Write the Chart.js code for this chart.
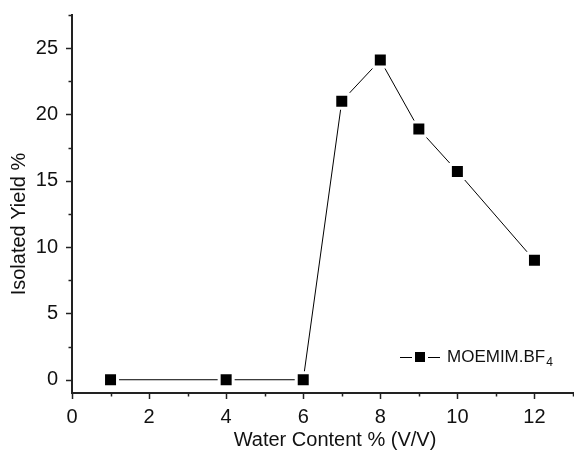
<!DOCTYPE html>
<html>
<head>
<meta charset="utf-8">
<script src="https://cdn.jsdelivr.net/npm/chart.js@4"></script>
<style>
  html, body { margin: 0; padding: 0; background: #fff; }
  #wrap { width: 574px; height: 456px; }
</style>
</head>
<body>
<div id="wrap"><canvas id="chart1"></canvas></div>
<script>
const water = [1, 4, 6, 7, 8, 9, 10, 12];
const yieldPct = [0, 0, 0, 21, 24.1, 18.9, 15.7, 9];
const seriesName = 'MOEMIM.BF';
const seriesSub = '4';
const xTitle = 'Water Content % (V/V)';
const yTitle = 'Isolated Yield %';

const fam = '"Liberation Sans", Arial, Helvetica, sans-serif';

// ticks (major + minor), axis titles and the in-plot legend
const extras = {
  id: 'extras',
  afterDraw(chart) {
    const ctx = chart.ctx;
    const xs = chart.scales.x, ys = chart.scales.y;
    ctx.save();
    ctx.strokeStyle = '#222';
    ctx.lineWidth = 1.5;
    ys.ticks.forEach(t => {
      const py = Math.round(ys.getPixelForValue(t.value)) + 0.5;
      const len = (t.value % 5 === 0) ? 6 : 3.5;
      ctx.beginPath();
      ctx.moveTo(ys.right, py);
      ctx.lineTo(ys.right - len, py);
      ctx.stroke();
    });
    xs.ticks.forEach(t => {
      const px = Math.round(xs.getPixelForValue(t.value)) + 0.5;
      const len = (t.value % 2 === 0) ? 6 : 3.5;
      ctx.beginPath();
      ctx.moveTo(px, xs.top);
      ctx.lineTo(px, xs.top + len);
      ctx.stroke();
    });

    ctx.fillStyle = '#111';
    ctx.font = '20px ' + fam;
    ctx.textAlign = 'center';
    ctx.textBaseline = 'middle';
    ctx.fillText(xTitle, 335, 440);
    ctx.save();
    ctx.translate(19, 224);
    ctx.rotate(-Math.PI / 2);
    ctx.fillText(yTitle, 0, 0);
    ctx.restore();

    // legend
    const ly = 357;
    ctx.lineWidth = 1;
    ctx.strokeStyle = '#000';
    ctx.beginPath();
    ctx.moveTo(400, ly + 0.5);
    ctx.lineTo(440, ly + 0.5);
    ctx.stroke();
    ctx.fillStyle = '#fff';
    ctx.fillRect(412, ly - 7, 16, 15);
    ctx.fillStyle = '#000';
    ctx.fillRect(415, ly - 5, 10, 10);
    ctx.fillStyle = '#111';
    ctx.textAlign = 'left';
    ctx.font = '17px ' + fam;
    ctx.fillText(seriesName, 447, ly);
    const w = ctx.measureText(seriesName).width;
    ctx.font = '12px ' + fam;
    ctx.fillText(seriesSub, 447 + w + 1, ly + 6);
    ctx.restore();
  }
};

function noPad(s) {
  s.paddingTop = 0;
  s.paddingBottom = 0;
  s.paddingLeft = 0;
  s.paddingRight = 0;
}

new Chart(document.getElementById('chart1'), {
  type: 'line',
  data: {
    datasets: [{
      label: seriesName + seriesSub,
      data: water.map((x, i) => ({ x: x, y: yieldPct[i] })),
      borderColor: '#000',
      borderWidth: 1,
      backgroundColor: '#000',
      pointStyle: 'rect',
      pointRadius: 9.9,
      pointBorderWidth: 3,
      pointBorderColor: '#fff',
      pointBackgroundColor: '#000',
      tension: 0
    }]
  },
  options: {
    responsive: true,
    maintainAspectRatio: false,
    animation: false,
    layout: { autoPadding: false, padding: { top: 15, right: 1, left: 0, bottom: 0 } },
    plugins: { legend: { display: false }, tooltip: { enabled: false } },
    scales: {
      x: {
        type: 'linear',
        min: 0,
        max: 13,
        grid: { display: false, drawTicks: false },
        border: { display: true, color: '#222', width: 2 },
        ticks: {
          stepSize: 1,
          autoSkip: false,
          maxRotation: 0,
          padding: 12,
          color: '#111',
          font: { family: fam, size: 20 },
          callback: v => (v % 2 === 0 ? v : '')
        },
        afterFit: s => { s.height = 63; noPad(s); }
      },
      y: {
        min: -1,
        max: 27.5,
        grid: { display: false, drawTicks: false },
        border: { display: true, color: '#222', width: 2 },
        ticks: {
          stepSize: 2.5,
          includeBounds: false,
          autoSkip: false,
          padding: 14,
          color: '#111',
          font: { family: fam, size: 20 },
          callback: v => (v % 5 === 0 ? v : '')
        },
        afterFit: s => { s.width = 72; noPad(s); }
      }
    }
  },
  plugins: [extras]
});
</script>
</body>
</html>
